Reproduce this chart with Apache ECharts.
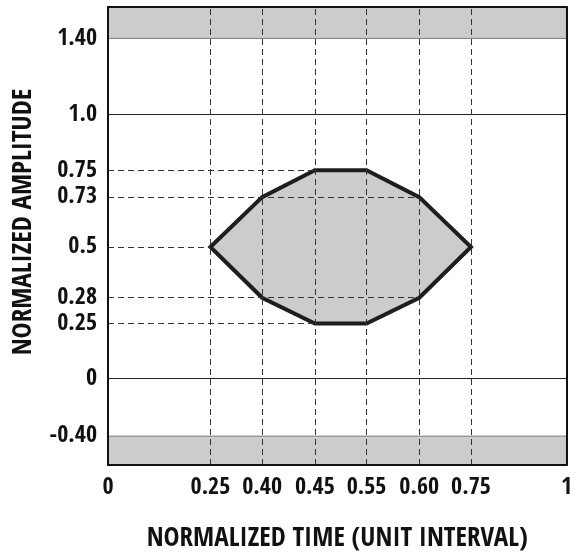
<!DOCTYPE html>
<html>
<head>
<meta charset="utf-8">
<script src="https://cdn.jsdelivr.net/npm/echarts@6/dist/echarts.min.js"></script>
<style>html,body{margin:0;padding:0;background:#fff}#c{width:575px;height:557px}</style>
</head>
<body>
<div id="c"></div>
<script>
// ---- data ----
const xTickValues = [0, 0.25, 0.40, 0.45, 0.55, 0.60, 0.75, 1];
const xTickLabels = ['0', '0.25', '0.40', '0.45', '0.55', '0.60', '0.75', '1'];
const yTickValues = [-0.40, 0, 0.25, 0.28, 0.5, 0.73, 0.75, 1.0, 1.40];
const yTickLabels = ['-0.40', '0', '0.25', '0.28', '0.5', '0.73', '0.75', '1.0', '1.40'];
const maskX = [0.25, 0.40, 0.45, 0.55, 0.60, 0.75, 0.60, 0.55, 0.45, 0.40];
const maskY = [0.5, 0.73, 0.75, 0.75, 0.73, 0.5, 0.28, 0.25, 0.25, 0.28];
const upperLimit = 1.40;
const lowerLimit = -0.40;
const referenceLevels = [1.0, 0];
const guideLevels = [0.75, 0.73, 0.5, 0.28, 0.25];
const guideEnds = [0.45, 0.60, 0.25, 0.60, 0.45];
const verticalGuides = [0.25, 0.40, 0.45, 0.55, 0.60, 0.75];

// ---- schematic (non-linear) axis layout ----
const X_LAYOUT = [0, 103, 155, 208, 260, 313, 365, 461];
const X_SPAN = 461;
const Y_LAYOUT = [29, 87, 142, 168, 219, 269, 296, 352, 428.5];
const Y_SPAN = 460;

function warp(v, vals, pos) {
  for (let i = 0; i < vals.length - 1; i++) {
    if (v <= vals[i + 1] || i === vals.length - 2) {
      const t = (v - vals[i]) / (vals[i + 1] - vals[i]);
      return pos[i] + t * (pos[i + 1] - pos[i]);
    }
  }
  return pos[pos.length - 1];
}
const wx = v => warp(v, xTickValues, X_LAYOUT);
const wy = v => warp(v, yTickValues, Y_LAYOUT);
function labelFor(v, pos, labels) {
  for (let i = 0; i < pos.length; i++) if (Math.abs(pos[i] - v) < 0.5) return labels[i];
  return '';
}

const FONT = "'Open Sans Condensed', 'Roboto Condensed', sans-serif";
const dashed = { color: '#333', width: 1, type: [6, 4] };

const chart = echarts.init(document.getElementById('c'), null, { renderer: 'canvas' });
const option = {
  animation: false,
  backgroundColor: '#fff',
  grid: { left: 108, right: 6, top: 7, bottom: 90, containLabel: false },
  xAxis: [{
    type: 'value', min: 0, max: X_SPAN, z: 10,
    axisLine: { show: true, onZero: false, lineStyle: { color: '#111', width: 2 } },
    axisTick: { show: false },
    splitLine: { show: false },
    axisLabel: {
      customValues: X_LAYOUT, margin: 11,
      formatter: v => labelFor(v, X_LAYOUT, xTickLabels),
      fontFamily: FONT, fontWeight: 'bold', fontSize: 24, color: '#111'
    },
    name: 'NORMALIZED TIME (UNIT INTERVAL)', nameLocation: 'middle', nameGap: 60,
    nameTextStyle: { fontFamily: FONT, fontWeight: 'bold', fontSize: 27, color: '#111' }
  }, {
    type: 'value', min: 0, max: X_SPAN, position: 'top', z: 10,
    axisLine: { show: true, onZero: false, lineStyle: { color: '#111', width: 2 } },
    axisTick: { show: false }, axisLabel: { show: false }, splitLine: { show: false }
  }],
  yAxis: [{
    type: 'value', min: 0, max: Y_SPAN, z: 10,
    axisLine: { show: true, onZero: false, lineStyle: { color: '#111', width: 2 } },
    axisTick: { show: false },
    splitLine: { show: false },
    axisLabel: {
      customValues: Y_LAYOUT, margin: 11,
      formatter: v => labelFor(v, Y_LAYOUT, yTickLabels),
      fontFamily: FONT, fontWeight: 'bold', fontSize: 24, color: '#111'
    }
  }, {
    type: 'value', min: 0, max: Y_SPAN, position: 'right', z: 10,
    axisLine: { show: true, onZero: false, lineStyle: { color: '#111', width: 2 } },
    axisTick: { show: false }, axisLabel: { show: false }, splitLine: { show: false }
  }],
  graphic: [{
    type: 'text', rotation: Math.PI / 2,
    x: 24, y: 222,
    style: {
      text: 'NORMALIZED AMPLITUDE', fontFamily: FONT, fontWeight: 'bold', fontSize: 27,
      fill: '#111', align: 'center', verticalAlign: 'middle'
    }
  }],
  series: [
    {
      // limit bands
      type: 'line', data: [], z: 1,
      markArea: {
        silent: true,
        itemStyle: { color: '#cccccc', borderColor: '#777', borderWidth: 1 },
        data: [
          [{ yAxis: wy(upperLimit) }, { yAxis: Y_SPAN }],
          [{ yAxis: 0 }, { yAxis: wy(lowerLimit) }]
        ]
      }
    },
    {
      // reference levels
      type: 'line', data: [], z: 2,
      markLine: {
        silent: true, symbol: 'none', label: { show: false },
        lineStyle: { color: '#222', width: 1, type: 'solid' },
        data: referenceLevels.map(v => ({ yAxis: wy(v) }))
      }
    },
    {
      // eye mask polygon
      type: 'custom', z: 3,
      data: [0],
      renderItem: (params, api) => {
        const pts = maskX.map((x, i) => api.coord([wx(x), wy(maskY[i])]));
        return {
          type: 'polygon',
          shape: { points: pts },
          style: { fill: '#cccccc', stroke: '#1e1e1e', lineWidth: 4, lineJoin: 'miter' }
        };
      }
    },
    {
      // guide lines
      type: 'line', data: [], z: 4,
      markLine: {
        silent: true, symbol: 'none', label: { show: false },
        lineStyle: dashed,
        data: verticalGuides.map(v => ({ xAxis: wx(v) })).concat(
          guideLevels.map((v, i) => [{ coord: [0, wy(v)] }, { coord: [wx(guideEnds[i]), wy(v)] }])
        )
      }
    }
  ]
};
chart.setOption(option);
</script>
</body>
</html>
